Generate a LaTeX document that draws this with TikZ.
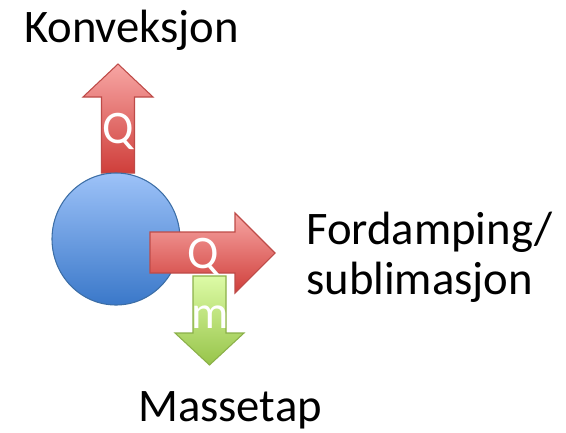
\documentclass[tikz,border=0pt]{standalone}
\usepackage{fontspec}
\setmainfont{Carlito}
\usepackage{tikz}
\definecolor{drop top}{HTML}{9DC2F8}
\definecolor{drop bottom}{HTML}{3A78C9}
\definecolor{drop edge}{HTML}{3C6EA6}
\definecolor{heat top}{HTML}{F7A6A4}
\definecolor{heat bottom}{HTML}{CF3E3A}
\definecolor{heat edge}{HTML}{BE4B48}
\definecolor{mass top}{HTML}{DDFBA6}
\definecolor{mass bottom}{HTML}{97C44A}
\definecolor{mass edge}{HTML}{8BB049}
\def\convarrow{(101.5,173) -- (101.5,97) -- (83,97) -- (118,64) -- (153,97) -- (134.5,97) -- (134.5,173) -- cycle}
\def\evaparrow{(150,232) -- (235,232) -- (235,213) -- (275,253) -- (235,293) -- (235,273) -- (150,273) -- cycle}
\def\massarrow{(193,276) -- (226,276) -- (226,333) -- (244,333) -- (209.5,365) -- (175,333) -- (193,333) -- cycle}
\tikzset{heat/.style={top color=heat top, bottom color=heat bottom, draw=heat edge, line width=0.8pt},
    mass/.style={top color=mass top, bottom color=mass bottom, draw=mass edge, line width=0.8pt},
    droplet/.style={top color=drop top, bottom color=drop bottom, draw=drop edge, line width=0.8pt},
    inlabel/.style={text=white, inner sep=0pt, anchor=base},
    outlabel/.style={text=black, inner sep=0pt}}

\begin{document}
\begin{tikzpicture}[x=0.75pt, y=-0.75pt, font=\fontsize{35}{37.5}\selectfont]
    \useasboundingbox (0,0) rectangle (566,432);
    \path[heat] \convarrow;
    \path[droplet] (116,239) circle[x radius=64, y radius=66];
    \path[mass] \massarrow;
    \path[heat] \evaparrow;
    \node[inlabel] (qconv) at (118,143) {Q};
    \node[inlabel] (qevap) at (203,268) {Q};
    \node[inlabel] (mloss) at (210,328) {m};
    \node[outlabel, anchor=base] (konv) at (131.5,42) {Konveksjon};
    % base anchor sits on the last line
    \node[outlabel, anchor=base west, align=left] (ford) at (306,294) {Fordamping/\\sublimasjon};
    \node[outlabel, anchor=base] (masse) at (230,421) {Massetap};
\end{tikzpicture}
\end{document}
